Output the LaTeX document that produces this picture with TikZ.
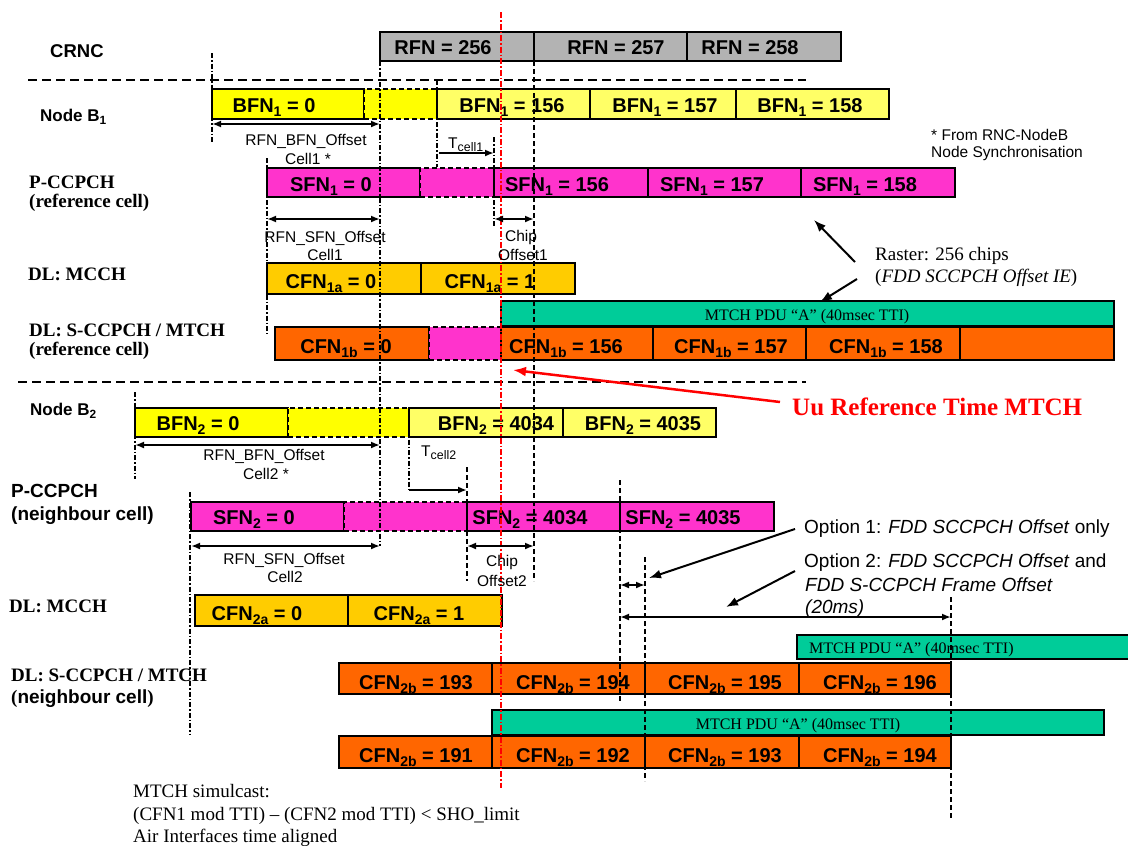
\documentclass[tikz,border=0pt]{standalone}
\usepackage{fontspec}
\setmainfont{Liberation Serif}
\setsansfont{Liberation Sans}
\usetikzlibrary{arrows.meta}
\definecolor{rfngray}{HTML}{B3B3B3}
\definecolor{byel}{HTML}{FFFF00}
\definecolor{lyel}{HTML}{FFFF66}
\definecolor{mag}{HTML}{FF33CC}
\definecolor{gold}{HTML}{FFCC00}
\definecolor{ora}{HTML}{FF6600}
\definecolor{grn}{HTML}{00CC99}
\newcommand\lsub[1]{\raisebox{-0.22em}{\scalebox{0.7}{#1}}}
\newcommand\tsub[1]{\raisebox{-0.25em}{\scalebox{0.8}{#1}}}
\newcommand\fs[1]{\fontsize{#1}{#1}\selectfont}
\newcommand\tbox[7][cellb]{\node[#1, fill=#3, anchor=north west, minimum width={(#6-#4)*1pt}, minimum height={(#7-#5)*1pt}] (#2) at (#4,#5) {};}
\begin{document}
\begin{tikzpicture}[x=1pt,y=-1pt,
  cellb/.style={draw=black, line width=1.4pt, inner sep=0pt, outer sep=0pt},
  dcell/.style={cellb, dash pattern=on 5pt off 3pt, line width=1.8pt},
  boxlab/.style={font=\sffamily\bfseries\fs{20}, anchor=base, inner sep=0pt},
  rowsans/.style={font=\sffamily\bfseries\fs{19}, anchor=base west, inner sep=0pt},
  rowserif/.style={font=\rmfamily\bfseries\fs{19}, anchor=base west, inner sep=0pt},
  note/.style={font=\sffamily\fs{15.5}, anchor=base, inner sep=0pt},
  notew/.style={note, anchor=base west},
  pdu/.style={font=\rmfamily\fs{16}, anchor=base, inner sep=0pt},
  sepline/.style={line width=2pt, dash pattern=on 9pt off 5pt},
  ddot/.style={line width=1.7pt, dash pattern=on 5pt off 2pt on 1.5pt off 2pt},
  vdash/.style={line width=1.8pt, dash pattern=on 5pt off 3pt},
  reddot/.style={red, line width=1.1pt, dash pattern=on 6pt off 2pt on 1.5pt off 2pt},
  dimarr/.style={line width=1.8pt, {Latex[length=9pt,width=7pt]}-{Latex[length=9pt,width=7pt]}},
  onearr/.style={line width=1.8pt, -{Latex[length=9pt,width=7pt]}},
  annarr/.style={line width=2pt, -{Latex[length=12pt,width=9pt]}},
]
\useasboundingbox (0,0) rectangle (1128,846);

% ---------- row labels
\node[rowsans, font=\sffamily\bfseries\fs{18.5}] (crnc) at (50,57) {CRNC};
\node[rowsans, font=\sffamily\bfseries\fs{17}] (nb1) at (40,121) {Node B\lsub{1}};
\node[rowserif] (pc1) at (29,188) {P-CCPCH};
\node[rowserif] (pc1b) at (29,207) {(reference cell)};
\node[rowserif] (mc1) at (28,280) {DL: MCCH};
\node[rowserif] (sc1) at (29,336) {DL: S-CCPCH / MTCH};
\node[rowserif] (sc1b) at (29,355) {(reference cell)};
\node[rowsans, font=\sffamily\bfseries\fs{17}] (nb2) at (30,415) {Node B\lsub{2}};
\node[rowsans] (pc2) at (11,497) {P-CCPCH};
\node[rowsans] (pc2b) at (11,520) {(neighbour cell)};
\node[rowserif] (mc2) at (9,612) {DL: MCCH};
\node[rowserif] (sc2) at (11,681) {DL: S-CCPCH / MTCH};
\node[rowsans] (sc2b) at (11,703) {{\rmfamily(}neighbour cell{\rmfamily)}};

% ---------- separators
\draw[sepline] (28,80) -- (806,80);
\draw[sepline] (18,382) -- (806,382);

% ---------- CRNC
\tbox{r256}{rfngray}{380}{32}{534}{61}
\tbox{r257}{rfngray}{534}{32}{687}{61}
\tbox{r258}{rfngray}{687}{32}{841}{61}
\node[boxlab] (tr256) at (443,54) {RFN = 256};
\node[boxlab] (tr257) at (616,54) {RFN = 257};
\node[boxlab] (tr258) at (750,54) {RFN = 258};

% ---------- Node B1
\tbox{b10}{byel}{212}{89}{364}{119}
\tbox[dcell]{b1d}{byel}{364}{89}{437}{119}
\tbox{b156}{lyel}{437}{89}{590}{119}
\tbox{b157}{lyel}{590}{89}{736}{119}
\tbox{b158}{lyel}{736}{89}{889}{119}
\node[boxlab] (tb10) at (274,112) {BFN\lsub{1} = 0};
\node[boxlab] (tb156) at (512,112) {BFN\lsub{1} = 156};
\node[boxlab] (tb157) at (665,112) {BFN\lsub{1} = 157};
\node[boxlab] (tb158) at (810,112) {BFN\lsub{1} = 158};

% ---------- SFN1
\tbox{s10}{mag}{267}{168}{420}{197}
\tbox[dcell]{s1d}{mag}{420}{168}{494}{197}
\tbox{s156}{mag}{494}{168}{648}{197}
\tbox{s157}{mag}{648}{168}{801}{197}
\tbox{s158}{mag}{801}{168}{955}{197}
\node[boxlab] (ts10) at (331,191) {SFN\lsub{1} = 0};
\node[boxlab] (ts156) at (557,191) {SFN\lsub{1} = 156};
\node[boxlab] (ts157) at (712,191) {SFN\lsub{1} = 157};
\node[boxlab] (ts158) at (865,191) {SFN\lsub{1} = 158};

% ---------- CFN1a
\tbox{c1a0}{gold}{267}{263}{421}{294}
\tbox{c1a1}{gold}{421}{263}{575}{294}
\node[boxlab] (tc1a0) at (331,288) {CFN\lsub{1a} = 0};
\node[boxlab] (tc1a1) at (490,288) {CFN\lsub{1a} = 1};

% ---------- MTCH ref
\tbox{m1}{grn}{501}{301}{1114}{326}
\node[pdu] (tm1) at (807,320) {MTCH PDU “A” (40msec TTI)};

% ---------- CFN1b
\tbox{c1b0}{ora}{275}{327}{429}{360}
\tbox[dcell]{c1bd}{mag}{429}{327}{501}{360}
\tbox{c1b156}{ora}{501}{327}{653}{360}
\tbox{c1b157}{ora}{653}{327}{806}{360}
\tbox{c1b158}{ora}{806}{327}{960}{360}
\tbox{c1bx}{ora}{960}{327}{1114}{360}
\node[boxlab] (tc1b0) at (346,353) {CFN\lsub{1b} = 0};
\node[boxlab] (tc1b156) at (566,353) {CFN\lsub{1b} = 156};
\node[boxlab] (tc1b157) at (731,353) {CFN\lsub{1b} = 157};
\node[boxlab] (tc1b158) at (886,353) {CFN\lsub{1b} = 158};

% ---------- Node B2
\tbox{b20}{byel}{135}{408}{288}{437}
\tbox[dcell]{b2d}{byel}{288}{408}{409}{437}
\tbox{b24034}{lyel}{409}{408}{563}{437}
\tbox{b24035}{lyel}{563}{408}{716}{437}
\node[boxlab] (tb20) at (198,430) {BFN\lsub{2} = 0};
\node[boxlab] (tb24034) at (496,430) {BFN\lsub{2} = 4034};
\node[boxlab] (tb24035) at (643,430) {BFN\lsub{2} = 4035};

% ---------- SFN2
\tbox{s20}{mag}{191}{502}{344}{531}
\tbox[dcell]{s2d}{mag}{344}{502}{467}{531}
\tbox{s24034}{mag}{467}{502}{620}{531}
\tbox{s24035}{mag}{620}{502}{774}{531}
\node[boxlab] (ts20) at (254,524) {SFN\lsub{2} = 0};
\node[boxlab] (ts24034) at (530,524) {SFN\lsub{2} = 4034};
\node[boxlab] (ts24035) at (683,524) {SFN\lsub{2} = 4035};

% ---------- CFN2a
\tbox{c2a0}{gold}{195}{595}{348}{626}
\tbox{c2a1}{gold}{348}{595}{502}{626}
\node[boxlab] (tc2a0) at (257,620) {CFN\lsub{2a} = 0};
\node[boxlab] (tc2a1) at (419,620) {CFN\lsub{2a} = 1};

% ---------- MTCH neighbour (option 2)
\fill[grn] (797,635) rectangle (1128,659);
\draw[line width=1.4pt] (1128,635) -- (797,635) -- (797,659) -- (1128,659);
\node[pdu, anchor=base west] (tm2) at (809,653) {MTCH PDU “A” (40msec TTI)};

\tbox{c2b193}{ora}{339}{663}{492}{694}
\tbox{c2b194}{ora}{492}{663}{645}{694}
\tbox{c2b195}{ora}{645}{663}{799}{694}
\tbox{c2b196}{ora}{799}{663}{951}{694}
\node[boxlab] (tc2b193) at (416,689) {CFN\lsub{2b} = 193};
\node[boxlab] (tc2b194) at (573,689) {CFN\lsub{2b} = 194};
\node[boxlab] (tc2b195) at (725,689) {CFN\lsub{2b} = 195};
\node[boxlab] (tc2b196) at (880,689) {CFN\lsub{2b} = 196};

% ---------- MTCH neighbour (option 1)
\tbox{m3}{grn}{492}{710}{1104}{735}
\node[pdu] (tm3) at (798,729) {MTCH PDU “A” (40msec TTI)};

\tbox{c2b191}{ora}{339}{736}{492}{768}
\tbox{c2b192}{ora}{492}{736}{645}{768}
\tbox{c2b193b}{ora}{645}{736}{799}{768}
\tbox{c2b194b}{ora}{799}{736}{951}{768}
\node[boxlab] (tc2b191) at (416,762) {CFN\lsub{2b} = 191};
\node[boxlab] (tc2b192) at (573,762) {CFN\lsub{2b} = 192};
\node[boxlab] (tc2b193b) at (725,762) {CFN\lsub{2b} = 193};
\node[boxlab] (tc2b194b) at (880,762) {CFN\lsub{2b} = 194};

% ---------- vertical guide lines
\draw[ddot] (212,53) -- (212,143);
\draw[ddot] (380,61) -- (380,546);
\draw[ddot] (267,158) -- (267,334);
\draw[ddot] (437,80) -- (437,167);
\draw[ddot] (494,137) -- (494,227);
\draw[ddot] (135,392) -- (135,479);
\draw[ddot] (409,408) -- (409,490);
\draw[ddot] (190,492) -- (190,734);
\draw[vdash] (534,61) -- (534,581);
\draw[vdash] (467,467) -- (467,581);
\draw[vdash] (620,480) -- (620,703);
\draw[vdash] (645,557) -- (645,781);
\draw[vdash] (951,597) -- (951,819);
\draw[reddot] (501,12) -- (501,788);

% ---------- dimension arrows and their texts
\coordinate (d1a) at (212,124); \coordinate (d1b) at (380,124);
\draw[dimarr] (d1a) -- (d1b);
\node[note] (n1) at (306,145.5) {RFN\_BFN\_Offset};
\node[note] (n1b) at (308,164.5) {Cell1 *};

\coordinate (t1a) at (439,153); \coordinate (t1b) at (494,153);
\draw[onearr] (t1a) -- (t1b);
\node[notew] (nt1) at (448,148) {T\tsub{cell1}};

\coordinate (d2a) at (267,219); \coordinate (d2b) at (380,219);
\draw[dimarr] (d2a) -- (d2b);
\node[note] (n2) at (325,242.5) {RFN\_SFN\_Offset};
\node[note] (n2b) at (325,260.5) {Cell1};

\coordinate (d3a) at (494,219); \coordinate (d3b) at (534,219);
\draw[dimarr] (d3a) -- (d3b);
\node[note] (n3) at (521,241.5) {Chip};
\node[note] (n3b) at (523,260.5) {Offset1};

\node[notew] (nfrom) at (931,140) {* From RNC-NodeB};
\node[notew] (nfrom2) at (931,157.5) {Node Synchronisation};

\coordinate (d4a) at (135,445); \coordinate (d4b) at (380,445);
\draw[dimarr] (d4a) -- (d4b);
\node[note] (n4) at (264,460.5) {RFN\_BFN\_Offset};
\node[note] (n4b) at (266,479.5) {Cell2 *};

\coordinate (t2a) at (409,490); \coordinate (t2b) at (467,490);
\draw[onearr] (t2a) -- (t2b);
\node[notew] (nt2) at (421,456) {T\tsub{cell2}};

\coordinate (d5a) at (191,546); \coordinate (d5b) at (380,546);
\draw[dimarr] (d5a) -- (d5b);
\node[note] (n5) at (284,564.5) {RFN\_SFN\_Offset};
\node[note] (n5b) at (285,582.5) {Cell2};

\coordinate (d6a) at (467,546); \coordinate (d6b) at (534,546);
\draw[dimarr] (d6a) -- (d6b);
\node[note] (n6) at (502,566.5) {Chip};
\node[note] (n6b) at (502,586.5) {Offset2};

\coordinate (d7a) at (620,585); \coordinate (d7b) at (645,585);
\draw[dimarr] (d7a) -- (d7b);
\coordinate (d8a) at (620,617); \coordinate (d8b) at (951,617);
\draw[dimarr] (d8a) -- (d8b);

% ---------- annotations
\node[font=\rmfamily\fs{19}, anchor=base west, inner sep=0pt] (ras1) at (875,260) {Raster: 256 chips};
\node[font=\rmfamily\fs{19}, anchor=base west, inner sep=0pt] (ras2) at (875,282) {(\textit{FDD SCCPCH Offset IE})};
\coordinate (ra1s) at (855,262); \coordinate (ra1e) at (814,220);
\coordinate (ra2s) at (857,279); \coordinate (ra2e) at (820,302);
\draw[annarr] (ra1s) -- (ra1e);
\draw[annarr] (ra2s) -- (ra2e);

\node[font=\rmfamily\bfseries\fs{25}, text=red, anchor=base west, inner sep=0pt] (uu) at (792,415) {Uu Reference Time MTCH};
\coordinate (uus) at (780,402); \coordinate (uue) at (513,370);
\draw[red, line width=2.5pt, -{Latex[length=13pt,width=10pt]}] (uus) -- (uue);

\node[font=\sffamily\fs{19}, anchor=base west, inner sep=0pt] (op1) at (804,533) {Option 1: \textit{FDD SCCPCH Offset} only};
\node[font=\sffamily\fs{19}, anchor=base west, inner sep=0pt] (op2) at (804,567) {Option 2: \textit{FDD SCCPCH Offset} and};
\node[font=\sffamily\fs{19}, anchor=base west, inner sep=0pt] (op2b) at (805,591) {\textit{FDD S-CCPCH Frame Offset}};
\node[font=\sffamily\fs{19}, anchor=base west, inner sep=0pt] (op2c) at (805,613) {\textit{(20ms)}};
\coordinate (o1s) at (795,529); \coordinate (o1e) at (649,578);
\coordinate (o2s) at (795,571); \coordinate (o2e) at (726,607);
\draw[annarr] (o1s) -- (o1e);
\draw[annarr] (o2s) -- (o2e);

\node[font=\rmfamily\fs{19}, anchor=base west, inner sep=0pt] (bt1) at (133,797) {MTCH simulcast:};
\node[font=\rmfamily\fs{19}, anchor=base west, inner sep=0pt] (bt2) at (133,820) {(CFN1 mod TTI) – (CFN2 mod TTI) < SHO\_limit};
\node[font=\rmfamily\fs{19}, anchor=base west, inner sep=0pt] (bt3) at (133,842) {Air Interfaces time aligned};
\end{tikzpicture}
\end{document}
